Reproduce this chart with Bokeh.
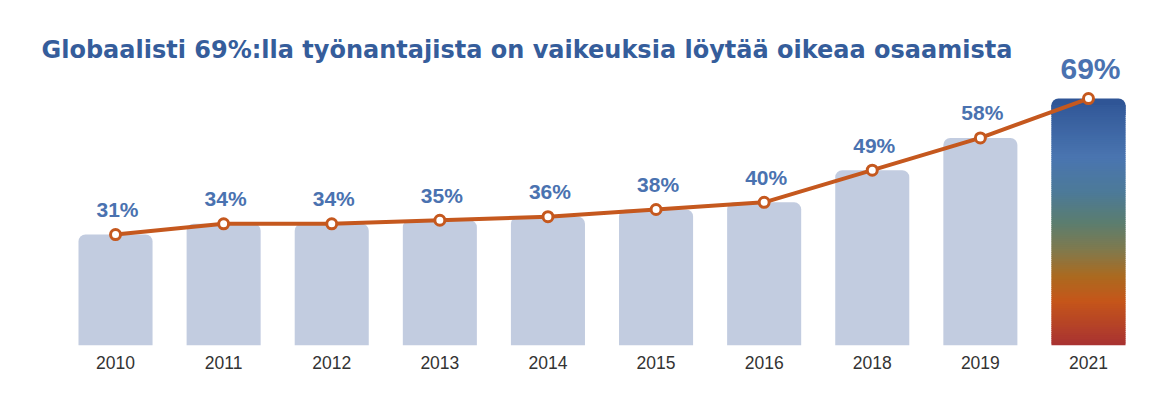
from bokeh.plotting import figure
from bokeh.models import ColumnDataSource, Label
from bokeh.embed import file_html
from bokeh.resources import INLINE
from bokeh.core.properties import value

years = ["2010", "2011", "2012", "2013", "2014", "2015", "2016", "2018", "2019", "2021"]
values = [31, 34, 34, 35, 36, 38, 40, 49, 58, 69]
labels = [f"{v}%" for v in values]
title_text = "Globaalisti 69%:lla työnantajista on vaikeuksia löytää oikeaa osaamista"

# gradient stops for highlighted bar (fraction from top, color)
grad_stops = [(0.0, (47, 85, 150)), (0.24, (74, 117, 176)), (0.38, (76, 122, 152)),
              (0.50, (90, 125, 112)), (0.61, (127, 122, 78)), (0.72, (171, 106, 32)),
              (0.82, (197, 86, 26)), (1.0, (168, 50, 50))]

def grad_color(f):
    for (f0, c0), (f1, c1) in zip(grad_stops[:-1], grad_stops[1:]):
        if f0 <= f <= f1:
            t = (f - f0) / (f1 - f0) if f1 > f0 else 0
            c = [round(a + (b - a) * t) for a, b in zip(c0, c1)]
            return "#%02x%02x%02x" % tuple(c)
    return "#%02x%02x%02x" % grad_stops[-1][1]

p = figure(x_range=years, y_range=(0, 96.4), width=1171, height=386,
           output_backend="svg", toolbar_location=None,
           min_border_left=32, min_border_right=0, min_border_top=0, min_border_bottom=41)
p.outline_line_color = None
p.background_fill_color = "white"
p.xgrid.visible = False
p.ygrid.visible = False
p.yaxis.visible = False
p.xaxis.axis_line_color = None
p.xaxis.major_tick_line_color = None
p.xaxis.minor_tick_line_color = None
p.xaxis.major_label_text_font = "Liberation Sans"
p.xaxis.major_label_text_font_size = "17.5px"
p.xaxis.major_label_text_color = "#333333"
p.xaxis.major_label_standoff = 4
p.x_range.range_padding = 0.0536

bar_w = 0.685
src = ColumnDataSource(dict(x=years[:-1], top=values[:-1]))
p.vbar(x="x", top="top", bottom=0, width=bar_w, source=src,
       fill_color="#c2cce0", line_color=None, border_radius=(7, 7, 0, 0))

# gradient bar built from slices
n = 120
last = values[-1]
gx, gb, gt, gc = [], [], [], []
for i in range(n):
    b = last * i / n
    t = last * (i + 1.6) / n
    frac_top = 1 - (b + (last / n) / 2) / last
    gx.append(years[-1]); gb.append(b); gt.append(min(t, last)); gc.append(grad_color(frac_top))
topsrc = ColumnDataSource(dict(x=[years[-1]], bottom=[last * (n - 8) / n], top=[last]))
p.vbar(x="x", top="top", bottom="bottom", width=bar_w, source=topsrc,
       fill_color=grad_color(0.0), line_color=None, border_radius=(7, 7, 0, 0))
k = n - 3
gsrc = ColumnDataSource(dict(x=gx[:k], bottom=gb[:k], top=[min(v, last * k / n) for v in gt[:k]], color=gc[:k]))
p.vbar(x="x", top="top", bottom="bottom", width=bar_w, source=gsrc,
       fill_color="color", line_color=None)

lsrc = ColumnDataSource(dict(x=years, y=values, lab=labels))
p.line(x="x", y="y", source=lsrc, line_color="#c5581e", line_width=4)
p.scatter(x="x", y="y", source=lsrc, size=10, fill_color="white", line_color="#c5581e", line_width=3)

small = ColumnDataSource(dict(x=years[:-1], y=values[:-1], lab=labels[:-1]))
p.text(x="x", y="y", text="lab", source=small, text_align="center", text_baseline="alphabetic",
       x_offset=2, y_offset=-25, text_font=value("Liberation Sans"), text_font_style="bold",
       text_font_size="21px", text_color="#4a72b0")
big = ColumnDataSource(dict(x=years[-1:], y=values[-1:], lab=labels[-1:]))
p.text(x="x", y="y", text="lab", source=big, text_align="center", text_baseline="alphabetic",
       x_offset=2, y_offset=-30, text_font=value("Liberation Sans"), text_font_style="bold",
       text_font_size="30px", text_color="#4a72b0")

title = Label(x=9, y=296, x_units="screen", y_units="screen", text=title_text,
              text_font="DejaVu Sans", text_font_style="bold", text_font_size="24px",
              text_color="#355d9b", text_baseline="alphabetic")
p.add_layout(title)

open("out.html", "w").write(file_html(p, INLINE))
